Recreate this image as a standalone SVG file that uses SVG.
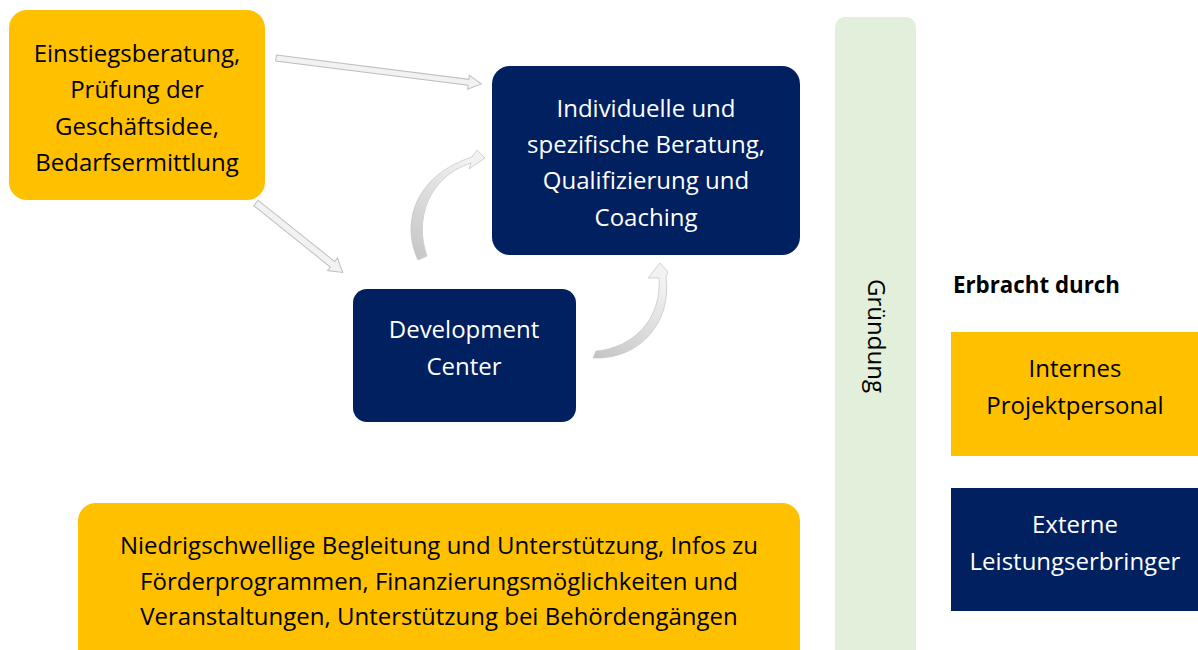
<svg xmlns="http://www.w3.org/2000/svg" width="1198" height="650" viewBox="0 0 1198 650">
  <style>
    .yel { fill: #FFC000; }
    .navy { fill: #002060; }
    .t { font-family: "Open Sans", Lato, sans-serif; font-size: 24px; text-anchor: middle; }
    .dark { fill: #000000; }
    .light { fill: #FFFFFF; }
    .blk { fill: #F2F2F2; stroke: #BFBFBF; stroke-width: 1; }
    .crv { stroke: #C8C8C8; stroke-width: 0.8; }
  </style>
  <defs>
    <linearGradient id="crvLeft" x1="0" y1="1" x2="0.6" y2="0">
      <stop offset="0" stop-color="#C4C4C4"/>
      <stop offset="1" stop-color="#F2F2F2"/>
    </linearGradient>
    <linearGradient id="crvRight" x1="0" y1="1" x2="0.6" y2="0">
      <stop offset="0" stop-color="#C4C4C4"/>
      <stop offset="1" stop-color="#F2F2F2"/>
    </linearGradient>
  </defs>

  <rect width="1198" height="650" fill="#FFFFFF"/>

  <!-- phase bar -->
  <g id="gruendung">
    <rect x="835" y="17" width="81" height="650" rx="10" fill="#E2EFDA"/>
    <text class="t dark" x="0" y="0" font-size="20.5" transform="translate(868,336) rotate(90)">Gründung</text>
  </g>

  <g id="einstieg">
    <rect class="yel" x="9" y="10" width="256" height="190" rx="18"/>
    <text class="t dark" x="137" y="62">Einstiegsberatung,</text>
    <text class="t dark" x="137" y="98">Prüfung der</text>
    <text class="t dark" x="137" y="134.5">Geschäftsidee,</text>
    <text class="t dark" x="137" y="171">Bedarfsermittlung</text>
  </g>

  <g id="beratung">
    <rect class="navy" x="492" y="66" width="308" height="189" rx="18"/>
    <text class="t light" x="646" y="116.5">Individuelle und</text>
    <text class="t light" x="646" y="152.5">spezifische Beratung,</text>
    <text class="t light" x="646" y="189">Qualifizierung und</text>
    <text class="t light" x="646" y="225.5">Coaching</text>
  </g>

  <g id="development">
    <rect class="navy" x="353" y="289" width="223" height="133" rx="14"/>
    <text class="t light" x="464" y="338">Development</text>
    <text class="t light" x="464" y="375">Center</text>
  </g>

  <g id="begleitung">
    <rect class="yel" x="78" y="503" width="722" height="170" rx="18"/>
    <text class="t dark" x="439" y="553.5">Niedrigschwellige Begleitung und Unterstützung, Infos zu</text>
    <text class="t dark" x="439" y="589.5">Förderprogrammen, Finanzierungsmöglichkeiten und</text>
    <text class="t dark" x="439" y="625">Veranstaltungen, Unterstützung bei Behördengängen</text>
  </g>

  <!-- legend -->
  <g id="legende">
    <text x="953" y="293" font-family="'Open Sans', Lato, sans-serif" font-size="22.3" font-weight="bold" fill="#000000">Erbracht durch</text>
  </g>
  <g id="intern">
    <rect class="yel" x="951" y="332" width="247" height="124"/>
    <text class="t dark" x="1075" y="376.5">Internes</text>
    <text class="t dark" x="1075" y="413.5">Projektpersonal</text>
  </g>
  <g id="extern">
    <rect class="navy" x="951" y="488" width="247" height="123"/>
    <text class="t light" x="1075" y="532.5">Externe</text>
    <text class="t light" x="1075" y="569.5">Leistungserbringer</text>
  </g>

  <!-- connectors -->
  <g id="connectors">
    <!-- straight block arrows, drawn along +x then rotated into place -->
    <polygon class="blk" transform="translate(276,58) rotate(7.2)" points="0,-3 194,-3 194,-7 207,0 194,7 194,3 0,3"/>
    <polygon class="blk" transform="translate(256,203) rotate(38.7)" points="0,-3.5 98,-3.5 98,-8 111,0 98,8 98,3.5 0,3.5"/>
    <!-- curved arrow: Development Center up to the consulting box -->
    <path class="crv" fill="url(#crvLeft)" d="M418,260 C400,222 416,175 472,157 L477,150 L485,158 L469,169 L471,163 C428,177 414,220 427,256 Z"/>
    <!-- curved arrow: back from Development Center into the consulting box -->
    <path class="crv" fill="url(#crvRight)" d="M593,358 C640,360 672,322 666,277 L668,272 L660,263 L648,278 L659,278 C662,318 634,348 596,351 Z"/>
  </g>
</svg>
